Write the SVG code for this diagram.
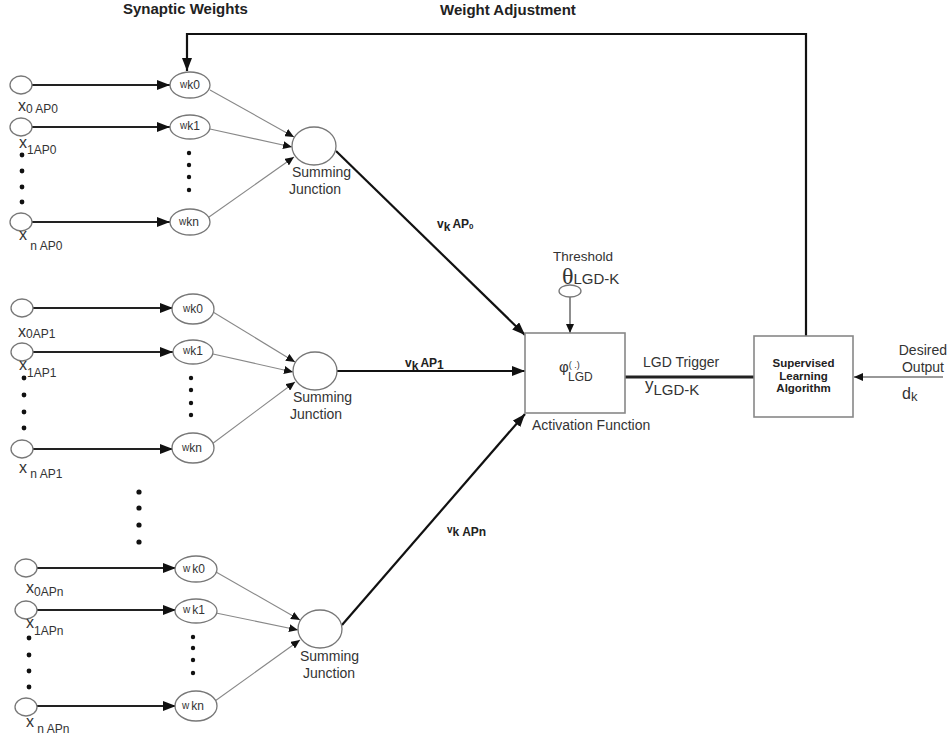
<svg xmlns="http://www.w3.org/2000/svg" width="952" height="742" viewBox="0 0 952 742">
  <defs>
    <marker id="arrowBig" markerUnits="userSpaceOnUse" markerWidth="14" markerHeight="10" refX="13" refY="5" orient="auto">
      <path d="M0,0 L13,5 L0,10 z" fill="#111"/>
    </marker>
    <marker id="arrowSmall" markerUnits="userSpaceOnUse" markerWidth="10" markerHeight="8" refX="9" refY="4" orient="auto">
      <path d="M0,0 L9,4 L0,8 z" fill="#111"/>
    </marker>
    <style>
      text { font-family: "Liberation Sans", Arial, sans-serif; fill: #333; }
      .hdr { font-size: 15px; font-weight: bold; fill: #222; }
      .node { fill: #fff; stroke: #777; stroke-width: 1.3; }
      .box { fill: #fff; stroke: #888; stroke-width: 1.6; }
      .in { stroke: #222; stroke-width: 2.2; fill: none; marker-end: url(#arrowBig); }
      .wt { stroke: #888; stroke-width: 1.1; fill: none; marker-end: url(#arrowSmall); }
      .main { stroke: #111; stroke-width: 2.2; fill: none; marker-end: url(#arrowBig); }
      .thin { stroke: #333; stroke-width: 1.1; fill: none; marker-end: url(#arrowSmall); }
      .dot { fill: #111; }
      .xl { font-size: 16px; }
      .xs { font-size: 12px; }
      .wl { font-size: 10px; }
      .ws { font-size: 12px; }
      .sj { font-size: 14px; }
      .lbl { font-size: 14px; }
      .vb { font-size: 12px; font-weight: bold; fill: #222; }
      .sup { font-size: 11.5px; font-weight: bold; fill: #222; }
    </style>
  </defs>

  <!-- headings -->
  <text class="hdr" x="123" y="14">Synaptic Weights</text>
  <text class="hdr" x="440" y="15">Weight Adjustment</text>

  <!-- connectors -->
  <g id="connectors">
    <!-- inputs to weights, group AP0 -->
    <line class="in" x1="32" y1="85" x2="170" y2="85"/>
    <line class="in" x1="32" y1="127" x2="170" y2="127"/>
    <line class="in" x1="32" y1="222" x2="170" y2="222"/>
    <!-- weights to summing junction, group AP0 -->
    <line class="wt" x1="210" y1="90" x2="294" y2="137"/>
    <line class="wt" x1="210" y1="129" x2="292" y2="147"/>
    <line class="wt" x1="209" y1="217" x2="294" y2="157"/>

    <!-- group AP1 -->
    <line class="in" x1="33" y1="308" x2="173" y2="308"/>
    <line class="in" x1="33" y1="352" x2="173" y2="352"/>
    <line class="in" x1="33" y1="449" x2="173" y2="449"/>
    <line class="wt" x1="213" y1="312" x2="295" y2="362"/>
    <line class="wt" x1="213" y1="354" x2="293" y2="372"/>
    <line class="wt" x1="212" y1="444" x2="295" y2="382"/>

    <!-- group APn -->
    <line class="in" x1="37" y1="568" x2="176" y2="568"/>
    <line class="in" x1="37" y1="610" x2="176" y2="610"/>
    <line class="in" x1="37" y1="706" x2="176" y2="706"/>
    <line class="wt" x1="216" y1="572" x2="300" y2="620"/>
    <line class="wt" x1="216" y1="613" x2="298" y2="630"/>
    <line class="wt" x1="215" y1="701" x2="300" y2="640"/>

    <!-- summing junctions to activation function -->
    <line class="main" x1="336" y1="151" x2="525" y2="335"/>
    <line class="main" x1="337" y1="371" x2="525" y2="371"/>
    <line class="main" x1="342" y1="625" x2="525" y2="414"/>

    <!-- threshold into activation -->
    <line class="thin" x1="570" y1="297" x2="570" y2="333"/>

    <!-- LGD trigger output -->
    <line x1="625" y1="377" x2="754" y2="377" stroke="#222" stroke-width="3"/>

    <!-- desired output -->
    <line class="thin" x1="943" y1="377" x2="854" y2="377"/>

    <!-- weight adjustment feedback -->
    <path class="main" d="M806,336 V34 H187 V71"/>
  </g>

  <!-- ===== group AP0 ===== -->
  <g id="x0-ap0"><ellipse class="node" cx="21" cy="85" rx="11" ry="9"/>
    <text x="18" y="111"><tspan class="xl">x</tspan><tspan class="xs" dy="2">0 AP0</tspan></text></g>
  <g id="x1-ap0"><ellipse class="node" cx="21" cy="127" rx="11" ry="9"/>
    <text x="19" y="148"><tspan class="xl">x</tspan><tspan class="xs" dy="6">1AP0</tspan></text></g>
  <g id="xn-ap0"><ellipse class="node" cx="21" cy="222" rx="11" ry="9"/>
    <text x="19" y="240"><tspan class="xl">x</tspan><tspan class="xs" dy="10"> n AP0</tspan></text></g>
  <g id="dots-in-ap0">
    <circle class="dot" cx="22" cy="155" r="2.4"/><circle class="dot" cx="22" cy="171" r="2.4"/>
    <circle class="dot" cx="22" cy="187" r="2.4"/><circle class="dot" cx="22" cy="202" r="2.4"/>
  </g>
  <g id="w0-ap0"><ellipse class="node" cx="190" cy="85" rx="20" ry="13"/>
    <text x="180" y="88"><tspan class="wl">w</tspan><tspan class="ws" dy="1">k0</tspan></text></g>
  <g id="w1-ap0"><ellipse class="node" cx="190" cy="127" rx="20" ry="12"/>
    <text x="180" y="129"><tspan class="wl">w</tspan><tspan class="ws" dy="1">k1</tspan></text></g>
  <g id="wn-ap0"><ellipse class="node" cx="190" cy="222" rx="20" ry="13"/>
    <text x="179" y="225"><tspan class="wl">w</tspan><tspan class="ws" dy="1">kn</tspan></text></g>
  <g id="dots-w-ap0">
    <circle class="dot" cx="189" cy="153" r="2.2"/><circle class="dot" cx="189" cy="165" r="2.2"/>
    <circle class="dot" cx="189" cy="177" r="2.2"/><circle class="dot" cx="189" cy="190" r="2.2"/>
  </g>
  <g id="sum-ap0"><ellipse class="node" cx="314" cy="146" rx="22" ry="19"/>
    <text class="sj" x="292" y="177">Summing<tspan x="289" dy="16.5">Junction</tspan></text></g>

  <!-- ===== group AP1 ===== -->
  <g id="x0-ap1"><ellipse class="node" cx="22" cy="308" rx="11" ry="9"/>
    <text x="18" y="337"><tspan class="xl">x</tspan><tspan class="xs" dy="1">0AP1</tspan></text></g>
  <g id="x1-ap1"><ellipse class="node" cx="22" cy="352" rx="11" ry="9"/>
    <text x="19" y="370"><tspan class="xl">x</tspan><tspan class="xs" dy="7">1AP1</tspan></text></g>
  <g id="xn-ap1"><ellipse class="node" cx="22" cy="449" rx="11" ry="9"/>
    <text x="19" y="473"><tspan class="xl">x</tspan><tspan class="xs" dy="5"> n AP1</tspan></text></g>
  <g id="dots-in-ap1">
    <circle class="dot" cx="24" cy="378" r="2.4"/><circle class="dot" cx="24" cy="395" r="2.4"/>
    <circle class="dot" cx="24" cy="412" r="2.4"/><circle class="dot" cx="24" cy="428" r="2.4"/>
  </g>
  <g id="w0-ap1"><ellipse class="node" cx="193" cy="309" rx="21" ry="15"/>
    <text x="183" y="312"><tspan class="wl">w</tspan><tspan class="ws" dy="1">k0</tspan></text></g>
  <g id="w1-ap1"><ellipse class="node" cx="193" cy="352" rx="20" ry="12"/>
    <text x="183" y="354"><tspan class="wl">w</tspan><tspan class="ws" dy="1">k1</tspan></text></g>
  <g id="wn-ap1"><ellipse class="node" cx="193" cy="448" rx="21" ry="15"/>
    <text x="182" y="451"><tspan class="wl">w</tspan><tspan class="ws" dy="1">kn</tspan></text></g>
  <g id="dots-w-ap1">
    <circle class="dot" cx="191" cy="378" r="2.2"/><circle class="dot" cx="191" cy="390" r="2.2"/>
    <circle class="dot" cx="191" cy="403" r="2.2"/><circle class="dot" cx="191" cy="415" r="2.2"/>
  </g>
  <g id="sum-ap1"><ellipse class="node" cx="315" cy="371" rx="22" ry="19"/>
    <text class="sj" x="293" y="402">Summing<tspan x="290" dy="16.5">Junction</tspan></text></g>

  <!-- dots between groups -->
  <g id="dots-groups">
    <circle class="dot" cx="139" cy="492" r="2.6"/><circle class="dot" cx="139" cy="508" r="2.6"/>
    <circle class="dot" cx="139" cy="525" r="2.6"/><circle class="dot" cx="139" cy="542" r="2.6"/>
  </g>

  <!-- ===== group APn ===== -->
  <g id="x0-apn"><ellipse class="node" cx="26" cy="568" rx="11" ry="9"/>
    <text x="26" y="593"><tspan class="xl">x</tspan><tspan class="xs" dy="3">0APn</tspan></text></g>
  <g id="x1-apn"><ellipse class="node" cx="26" cy="610" rx="11" ry="9"/>
    <text x="26" y="628"><tspan class="xl">x</tspan><tspan class="xs" dy="7">1APn</tspan></text></g>
  <g id="xn-apn"><ellipse class="node" cx="26" cy="707" rx="11" ry="9"/>
    <text x="26" y="727"><tspan class="xl">x</tspan><tspan class="xs" dy="6"> n APn</tspan></text></g>
  <g id="dots-in-apn">
    <circle class="dot" cx="29" cy="638" r="2.4"/><circle class="dot" cx="29" cy="655" r="2.4"/>
    <circle class="dot" cx="29" cy="671" r="2.4"/><circle class="dot" cx="29" cy="687" r="2.4"/>
  </g>
  <g id="w0-apn"><ellipse class="node" cx="196" cy="569" rx="21" ry="13"/>
    <text x="183" y="572"><tspan class="wl">w</tspan><tspan class="ws" dx="2" dy="1">k0</tspan></text></g>
  <g id="w1-apn"><ellipse class="node" cx="196" cy="611" rx="21" ry="12"/>
    <text x="183" y="613"><tspan class="wl">w</tspan><tspan class="ws" dx="2" dy="1">k1</tspan></text></g>
  <g id="wn-apn"><ellipse class="node" cx="196" cy="706" rx="21" ry="15"/>
    <text x="182" y="709"><tspan class="wl">w</tspan><tspan class="ws" dx="2" dy="1">kn</tspan></text></g>
  <g id="dots-w-apn">
    <circle class="dot" cx="193" cy="637" r="2.2"/><circle class="dot" cx="193" cy="648" r="2.2"/>
    <circle class="dot" cx="193" cy="660" r="2.2"/><circle class="dot" cx="193" cy="673" r="2.2"/>
  </g>
  <g id="sum-apn"><ellipse class="node" cx="320" cy="629" rx="22" ry="19"/>
    <text class="sj" x="300" y="661">Summing<tspan x="303" dy="16.5">Junction</tspan></text></g>

  <!-- edge labels -->
  <text class="vb" x="437" y="228">v<tspan dy="3">k</tspan><tspan dy="-3" dx="2">AP</tspan><tspan font-size="8" dy="1">0</tspan></text>
  <text class="vb" x="405" y="367">v<tspan dy="3">k</tspan><tspan dy="-3" dx="2">AP</tspan><tspan dy="2">1</tspan></text>
  <text class="vb" x="447" y="536"><tspan font-size="10" dy="-3">v</tspan><tspan dy="3">k APn</tspan></text>

  <!-- threshold -->
  <g id="threshold">
    <text x="553" y="261" font-size="13.5">Threshold</text>
    <text x="562" y="284"><tspan font-size="24" font-family="Liberation Serif, serif">θ</tspan><tspan font-size="15">LGD-K</tspan></text>
    <ellipse class="node" cx="570" cy="291" rx="11" ry="6"/>
  </g>

  <!-- activation function -->
  <g id="activation">
    <rect class="box" x="525" y="333" width="100" height="80"/>
    <text x="559" y="372"><tspan font-size="15">φ</tspan><tspan font-size="9" dy="-4">( .)</tspan></text>
    <text x="568" y="381" font-size="12">LGD</text>
    <text class="lbl" x="532" y="430">Activation Function</text>
  </g>

  <!-- trigger labels -->
  <text class="lbl" x="643" y="367">LGD Trigger</text>
  <text x="645" y="390"><tspan font-size="17">y</tspan><tspan font-size="15" dy="5">LGD-K</tspan></text>

  <!-- supervised learning algorithm -->
  <g id="supervised">
    <rect class="box" x="754" y="336" width="99" height="81"/>
    <text class="sup" x="803.5" y="367" text-anchor="middle">Supervised</text>
    <text class="sup" x="803.5" y="380" text-anchor="middle">Learning</text>
    <text class="sup" x="803.5" y="392" text-anchor="middle">Algorithm</text>
  </g>

  <!-- desired output -->
  <g id="desired">
    <text class="lbl" x="947" y="355" text-anchor="end">Desired</text>
    <text class="lbl" x="944" y="372" text-anchor="end">Output</text>
    <text x="902" y="399"><tspan font-size="16">d</tspan><tspan font-size="13" dy="2">k</tspan></text>
  </g>
</svg>
